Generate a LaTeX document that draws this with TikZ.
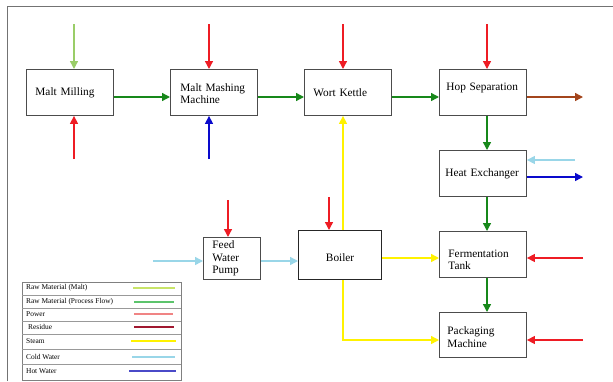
\documentclass[tikz,border=0pt]{standalone}
\usepackage{fontspec}
\setmainfont{Liberation Serif}
\usetikzlibrary{arrows.meta}
\definecolor{maltgreen}{HTML}{9ACD68}
\definecolor{flowgreen}{HTML}{17881A}
\definecolor{powerred}{HTML}{EE1C24}
\definecolor{residue}{HTML}{A3451C}
\definecolor{steam}{HTML}{FFF200}
\definecolor{coldwater}{HTML}{99D6E8}
\definecolor{hotwater}{HTML}{0A0ACC}
\definecolor{keymalt}{HTML}{C8E468}
\definecolor{keyflow}{HTML}{5CC46C}
\definecolor{keypower}{HTML}{F08484}
\definecolor{keyresidue}{HTML}{A01830}
\definecolor{keywater}{HTML}{4A4AC8}
\tikzset{unit/.style = {shape=rectangle,draw=black!70,line width=0.9pt,anchor=north west,
  minimum width=87pt,minimum height=46pt,inner ysep=1pt,align=left}}
\tikzset{feed/.style = {-{Triangle[length=8pt,width=8pt]},line width=1.4pt}}
\tikzset{keyline/.style = {line width=1.3pt}}
\tikzset{keytext/.style = {anchor=west,inner sep=0pt,font=\fontsize{7.4}{8}\selectfont}}

\begin{document}
\begin{tikzpicture}[x=1pt,y=-1pt,font=\fontsize{11.3}{12.5}\selectfont]
      \useasboundingbox (0,0) rectangle (613,381);
      \draw[black!55, line width=0.8pt] (7,381) -- (7,6) -- (613,6);

      % process units
      \node[unit, inner xsep=9pt, text width=69pt] (mill) at (26,69) {Malt Milling};
      \node[unit, inner xsep=10pt, text width=67pt, text depth=10pt] (mash) at (170,69) {Malt Mashing\\Machine};
      \node[unit, inner xsep=9pt, text width=69pt] (kettle) at (304,69) {Wort Kettle};
      \node[unit, inner xsep=7pt, text width=73pt, text depth=10.5pt] (hop) at (439,69) {Hop Separation};
      \node[unit, inner xsep=6pt, text width=75pt] (hex) at (439,150) {Heat Exchanger};
      \node[unit, inner xsep=9pt, text width=69pt, text height=17.7pt] (ferm) at (439,231) {Fermentation\\Tank};
      \node[unit, inner xsep=8pt, text width=71pt, text height=11.7pt, minimum height=45pt] (pack) at (439,312) {Packaging\\Machine};
      \node[unit, inner xsep=9pt, text width=39pt, minimum width=57pt, minimum height=42pt] (pump) at (203,237) {Feed\\Water\\Pump};
      \node[unit, draw=black!85, line width=1.2pt, align=center, minimum width=83pt, minimum height=49pt, text height=12.7pt] (boiler) at (298,230) {Boiler};

      % free ends
      \coordinate (maltin) at (74,24);
      \coordinate (pwmill) at (74,159);
      \coordinate (pwmash) at (209,24);
      \coordinate (hwmash) at (209,159);
      \coordinate (pwkettle) at (343,24);
      \coordinate (pwhop) at (487,24);
      \coordinate (flowrow) at (0,97);
      \coordinate (resout) at (583,97);
      \coordinate (cwhex) at (575,160);
      \coordinate (hwout) at (583,177);
      \coordinate (pwferm) at (583,258);
      \coordinate (pwpack) at (583,340);
      \coordinate (pwpump) at (228,200);
      \coordinate (cwpump) at (153,261);
      \coordinate (pwboiler) at (329,197);

      % inputs from above and below
      \draw[feed, maltgreen] (maltin) -- (maltin |- mill.north);
      \draw[feed, powerred] (pwmill) -- (pwmill |- mill.south);
      \draw[feed, powerred] (pwmash) -- (pwmash |- mash.north);
      \draw[feed, hotwater] (hwmash) -- (hwmash |- mash.south);
      \draw[feed, powerred] (pwkettle) -- (pwkettle |- kettle.north);
      \draw[feed, powerred] (pwhop) -- (pwhop |- hop.north);

      % process flow
      \draw[feed, flowgreen] (mill.east |- flowrow) -- (mash.west |- flowrow);
      \draw[feed, flowgreen] (mash.east |- flowrow) -- (kettle.west |- flowrow);
      \draw[feed, flowgreen] (kettle.east |- flowrow) -- (hop.west |- flowrow);
      \draw[feed, residue] (hop.east |- resout) -- (resout);
      \draw[feed, flowgreen] (pwhop |- hop.south) -- (pwhop |- hex.north);
      \draw[feed, flowgreen] (pwhop |- hex.south) -- (pwhop |- ferm.north);
      \draw[feed, flowgreen] (pwhop |- ferm.south) -- (pwhop |- pack.north);

      % utilities on the right
      \draw[feed, coldwater] (cwhex) -- (cwhex -| hex.east);
      \draw[feed, hotwater] (hex.east |- hwout) -- (hwout);
      \draw[feed, powerred] (pwferm) -- (pwferm -| ferm.east);
      \draw[feed, powerred] (pwpack) -- (pwpack -| pack.east);

      % feed water and steam
      \draw[feed, powerred] (pwpump) -- (pwpump |- pump.north);
      \draw[feed, coldwater] (cwpump) -- (cwpump -| pump.west);
      \draw[feed, coldwater] (pump.east |- cwpump) -- (boiler.west |- cwpump);
      \draw[feed, powerred] (pwboiler) -- (pwboiler |- boiler.north);
      \draw[feed, steam] (pwkettle |- boiler.north) -- (pwkettle |- kettle.south);
      \draw[feed, steam] (boiler.east |- pwferm) -- (ferm.west |- pwferm);
      \draw[feed, steam] (pwkettle |- boiler.south) |- (pack.west |- pwpack);

      % key
      \draw[black!50, line width=0.6pt] (22,282) rectangle (181,380);
      \draw[black!40, line width=0.6pt] (22,295) -- (181,295) (22,308) -- (181,308) (22,321) -- (181,321)
            (22,334) -- (181,334) (22,349) -- (181,349) (22,364) -- (181,364);
      \node[keytext] (kmalt) at (26,288) {Raw Material (Malt)};
      \node[keytext] (kflow) at (26,302) {Raw Material (Process Flow)};
      \node[keytext] (kpower) at (26,314) {Power};
      \node[keytext] (kresidue) at (28,327) {Residue};
      \node[keytext] (ksteam) at (26,341) {Steam};
      \node[keytext] (kcold) at (26,357) {Cold Water};
      \node[keytext] (khot) at (26,371) {Hot Water};
      \draw[keyline, keymalt] (133,288) -- (175,288);
      \draw[keyline, keyflow] (134,302) -- (174,302);
      \draw[keyline, keypower] (134,314) -- (173,314);
      \draw[keyline, keyresidue] (134,327) -- (174,327);
      \draw[keyline, steam] (131,341) -- (176,341);
      \draw[keyline, coldwater] (132,357) -- (175,357);
      \draw[keyline, keywater] (129,371) -- (176,371);
    \end{tikzpicture}
\end{document}
